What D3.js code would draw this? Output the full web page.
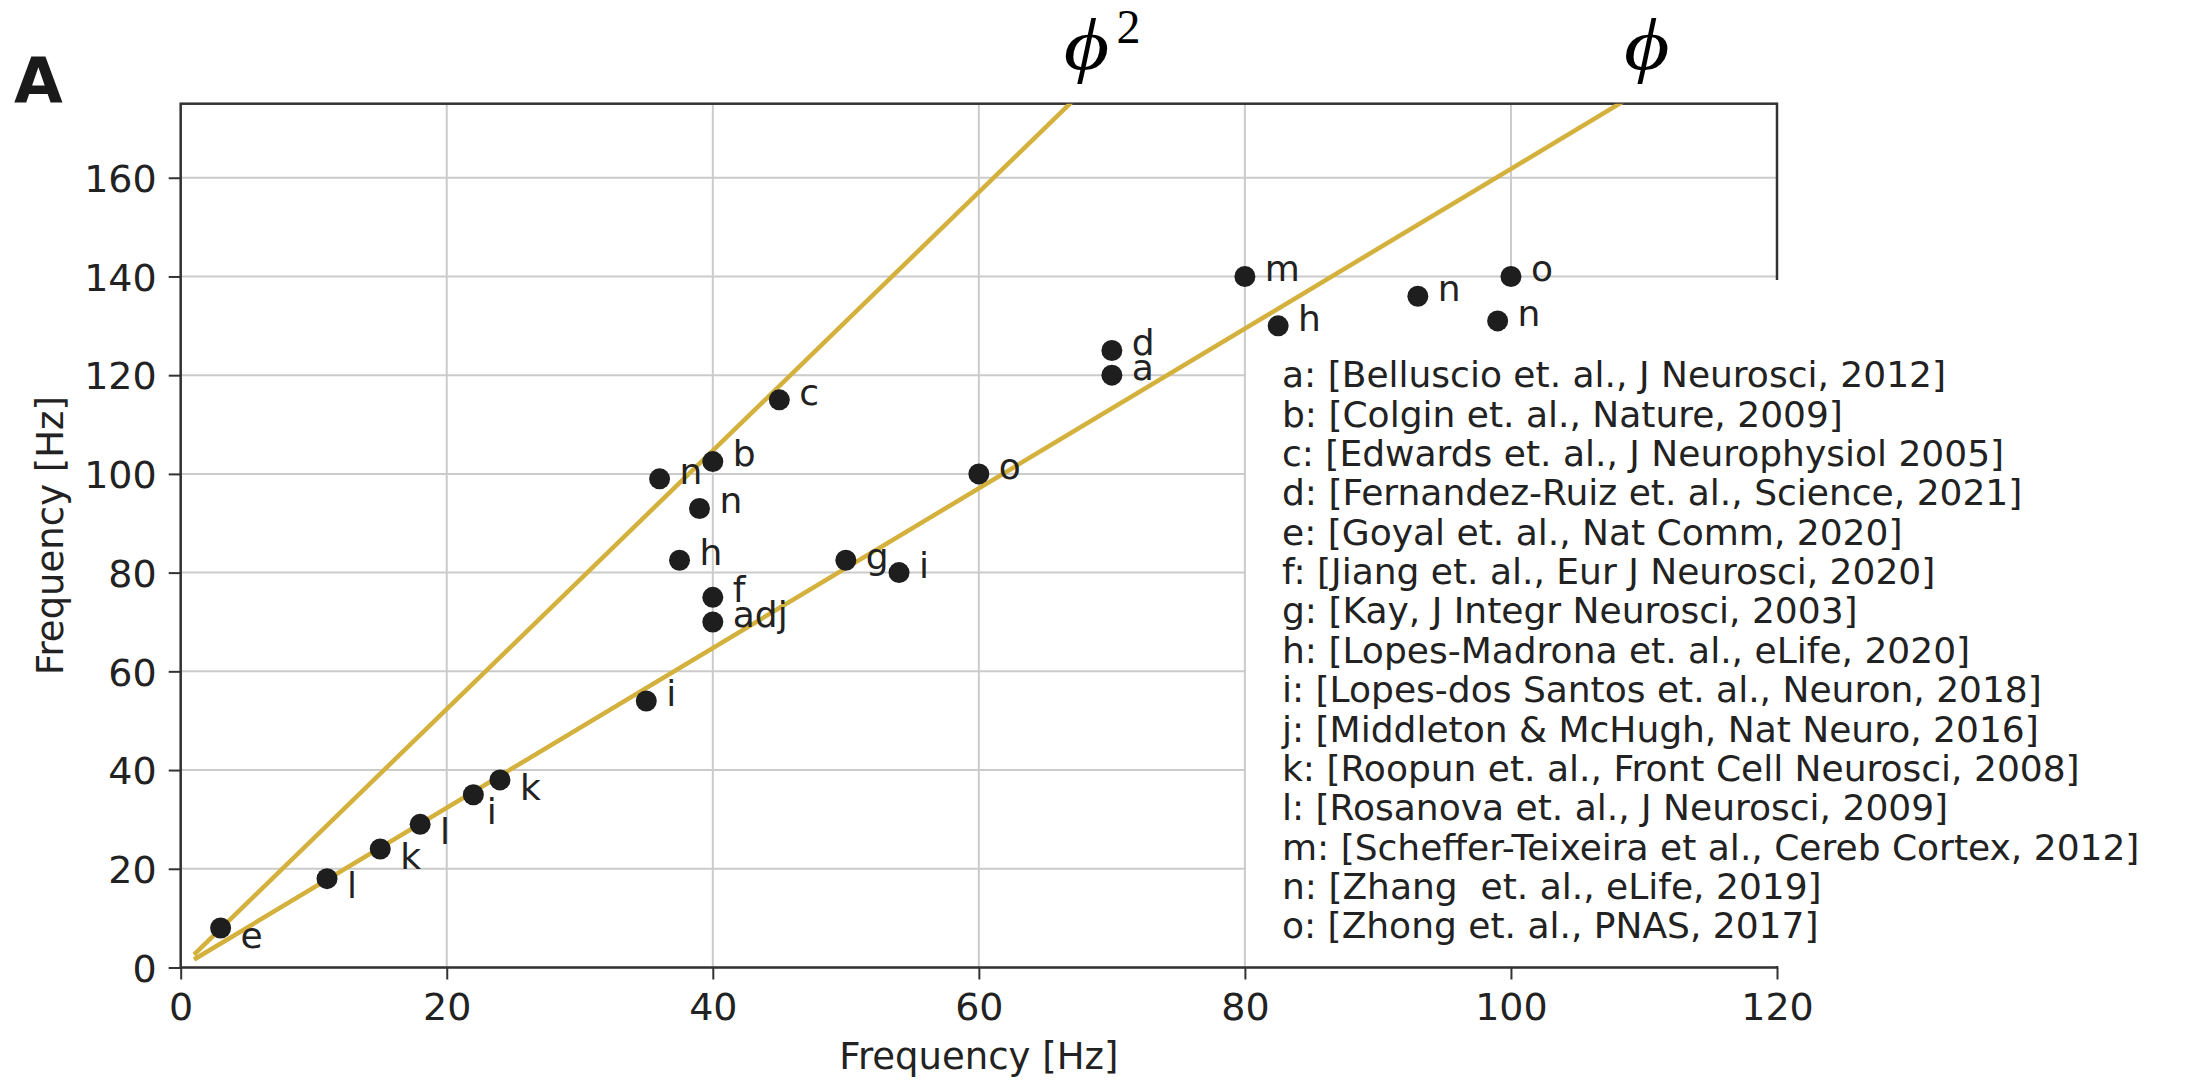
<!DOCTYPE html>
<html>
<head>
<meta charset="utf-8">
<script src="https://cdn.jsdelivr.net/npm/d3@7"></script>
<style>
  html, body { margin: 0; padding: 0; background: #fff; }
  svg { display: block; font-family: "DejaVu Sans", "Bitstream Vera Sans", sans-serif; }
</style>
</head>
<body>
<svg id="chart" width="2189" height="1080"></svg>
<script>
// Reported frequency pairs (slow rhythm on x, fast rhythm on y), one letter per study
const pointTags = ["e", "l", "k", "l", "i", "k", "i", "n", "n", "h", "b", "f", "adj", "c", "g", "i", "o", "d", "a", "m", "h", "n", "o", "n"];
const slowFreq  = [3, 11, 15, 18, 22, 24, 35, 36, 39, 37.5, 40, 40, 40, 45, 50, 54, 60, 70, 70, 80, 82.5, 93, 100, 99];
const fastFreq  = [8, 18, 24, 29, 35, 38, 54, 99, 93, 82.5, 102.5, 75, 70, 115, 82.5, 80, 100, 125, 120, 140, 130, 136, 140, 131];
// Annotation offsets in data units (like annotate's xytext)
const tagDx = [1.5, 1.5, 1.5, 1.5, 1.0, 1.5, 1.5, 1.5, 1.5, 1.5, 1.5, 1.5, 1.5, 1.5, 1.5, 1.5, 1.5, 1.5, 1.5, 1.5, 1.5, 1.5, 1.5, 1.5];
const tagDy = [-4, -4, -4, -4, -6, -4, -1, -1, -1, -1, -1, -1, -1, -1, -1.7, -1, -1, -1, -1, -1, -1, -1, -1, -1];

// Golden-ratio reference lines y = r * x
const PHI = (1 + Math.sqrt(5)) / 2;
const ratios = [PHI * PHI, PHI];
const ratioPowers = ["2", ""];
const ratioLabelAt = [68.1, 110.2];   // centre (data units) of each ratio symbol
const lineStartX = 1;

const xTicks = [0, 20, 40, 60, 80, 100, 120];
const yTicks = [0, 20, 40, 60, 80, 100, 120, 140, 160];

const references = [
  "a: [Belluscio et. al., J Neurosci, 2012]",
  "b: [Colgin et. al., Nature, 2009]",
  "c: [Edwards et. al., J Neurophysiol 2005]",
  "d: [Fernandez-Ruiz et. al., Science, 2021]",
  "e: [Goyal et. al., Nat Comm, 2020]",
  "f: [Jiang et. al., Eur J Neurosci, 2020]",
  "g: [Kay, J Integr Neurosci, 2003]",
  "h: [Lopes-Madrona et. al., eLife, 2020]",
  "i: [Lopes-dos Santos et. al., Neuron, 2018]",
  "j: [Middleton & McHugh, Nat Neuro, 2016]",
  "k: [Roopun et. al., Front Cell Neurosci, 2008]",
  "l: [Rosanova et. al., J Neurosci, 2009]",
  "m: [Scheffer-Teixeira et al., Cereb Cortex, 2012]",
  "n: [Zhang  et. al., eLife, 2019]",
  "o: [Zhong et. al., PNAS, 2017]"
];

const svg = d3.select("#chart");
const plot = { left: 180.7, right: 1777, top: 103.7, bottom: 967.5 };

const x = d3.scaleLinear().domain([0, 120]).range([plot.left, plot.right]);
const y = d3.scaleLinear().domain([0, 175]).range([plot.bottom, plot.top]);

const GOLD = "#d4b03c";
const INK = "#222222";
const SPINE = "#333333";

// clip for the reference lines
svg.append("defs").append("clipPath").attr("id", "plotClip")
  .append("rect")
  .attr("x", plot.left).attr("y", plot.top)
  .attr("width", plot.right - plot.left).attr("height", plot.bottom - plot.top);

// grid
const grid = svg.append("g");
grid.selectAll("line.gx").data(xTicks).join("line")
  .attr("x1", d => x(d)).attr("x2", d => x(d))
  .attr("y1", plot.top).attr("y2", plot.bottom)
  .attr("stroke", "#cbcbcb").attr("stroke-width", 2);
grid.selectAll("line.gy").data(yTicks).join("line")
  .attr("y1", d => y(d)).attr("y2", d => y(d))
  .attr("x1", plot.left).attr("x2", plot.right)
  .attr("stroke", "#cbcbcb").attr("stroke-width", 2);

// frame
svg.append("rect")
  .attr("x", plot.left).attr("y", plot.top)
  .attr("width", plot.right - plot.left).attr("height", plot.bottom - plot.top)
  .attr("fill", "none").attr("stroke", SPINE).attr("stroke-width", 2.5);

// axes
const xAxis = svg.append("g")
  .attr("transform", `translate(0,${plot.bottom})`)
  .call(d3.axisBottom(x).tickValues(xTicks).tickSize(12).tickPadding(14).tickFormat(d3.format("d")));
const yAxis = svg.append("g")
  .attr("transform", `translate(${plot.left},0)`)
  .call(d3.axisLeft(y).tickValues(yTicks).tickSize(12).tickPadding(12).tickFormat(d3.format("d")));
[xAxis, yAxis].forEach(g => {
  g.select(".domain").remove();
  g.selectAll(".tick line").attr("stroke", SPINE).attr("stroke-width", 2);
  g.selectAll(".tick text")
    .attr("fill", INK)
    .style("font-size", "38px")
    .style("font-family", "'DejaVu Sans', sans-serif");
});
yAxis.selectAll(".tick text").attr("dy", "0.36em");

// axis titles
svg.append("text")
  .attr("x", (plot.left + plot.right) / 2).attr("y", 1069)
  .attr("text-anchor", "middle").attr("fill", INK)
  .style("font-size", "37px")
  .text("Frequency [Hz]");
svg.append("text")
  .attr("transform", `translate(63,${(plot.top + plot.bottom) / 2}) rotate(-90)`)
  .attr("text-anchor", "middle").attr("fill", INK)
  .style("font-size", "37px")
  .text("Frequency [Hz]");

// panel letter
svg.append("text")
  .attr("x", 14).attr("y", 101.7)
  .attr("fill", "#1a1a1a")
  .style("font-size", "63px").style("font-weight", "bold")
  .text("A");

// white box holding the reference list (sits over grid, under the data)
svg.append("rect")
  .attr("x", 1246).attr("y", 280)
  .attr("width", 940).attr("height", 686)
  .attr("fill", "#fff");

// reference lines
const lineGen = d3.line().x(d => x(d[0])).y(d => y(d[1]));
svg.append("g").attr("clip-path", "url(#plotClip)")
  .selectAll("path").data(ratios).join("path")
  .attr("d", r => lineGen([[lineStartX, lineStartX * r], [120, 120 * r]]))
  .attr("fill", "none").attr("stroke", GOLD).attr("stroke-width", 4.5);

// ratio symbols above the frame
const ratioG = svg.append("g").style("font-family", "'Liberation Serif', 'DejaVu Serif', serif").attr("fill", "#000");
ratioG.selectAll("text.sym").data(ratioLabelAt).join("text")
  .attr("class", "sym")
  .attr("transform", d => `translate(${x(d)},69) scale(1.22,1)`)
  .attr("text-anchor", "middle")
  .style("font-style", "italic").style("font-size", "72px")
  .text("\u03D5");
ratioG.selectAll("text.pow").data(ratioLabelAt).join("text")
  .attr("class", "pow")
  .attr("x", d => x(d) + 30).attr("y", 43)
  .style("font-size", "48px")
  .text((d, i) => ratioPowers[i]);

// study points
const pts = slowFreq.map((v, i) => ({ sx: v, fy: fastFreq[i], tag: pointTags[i], dx: tagDx[i], dy: tagDy[i] }));
svg.append("g").selectAll("circle").data(pts).join("circle")
  .attr("cx", d => x(d.sx)).attr("cy", d => y(d.fy))
  .attr("r", 10.5).attr("fill", "#1e1e1e");
svg.append("g").selectAll("text").data(pts).join("text")
  .attr("x", d => x(d.sx + d.dx)).attr("y", d => y(d.fy + d.dy))
  .attr("fill", INK)
  .style("font-size", "36px")
  .text(d => d.tag);

// reference list
svg.append("g").selectAll("text").data(references).join("text")
  .attr("x", 1282)
  .attr("y", (d, i) => 387.3 + i * 39.36)
  .attr("fill", INK)
  .style("font-size", "36px")
  .style("white-space", "pre")
  .text(d => d);
</script>
</body>
</html>
